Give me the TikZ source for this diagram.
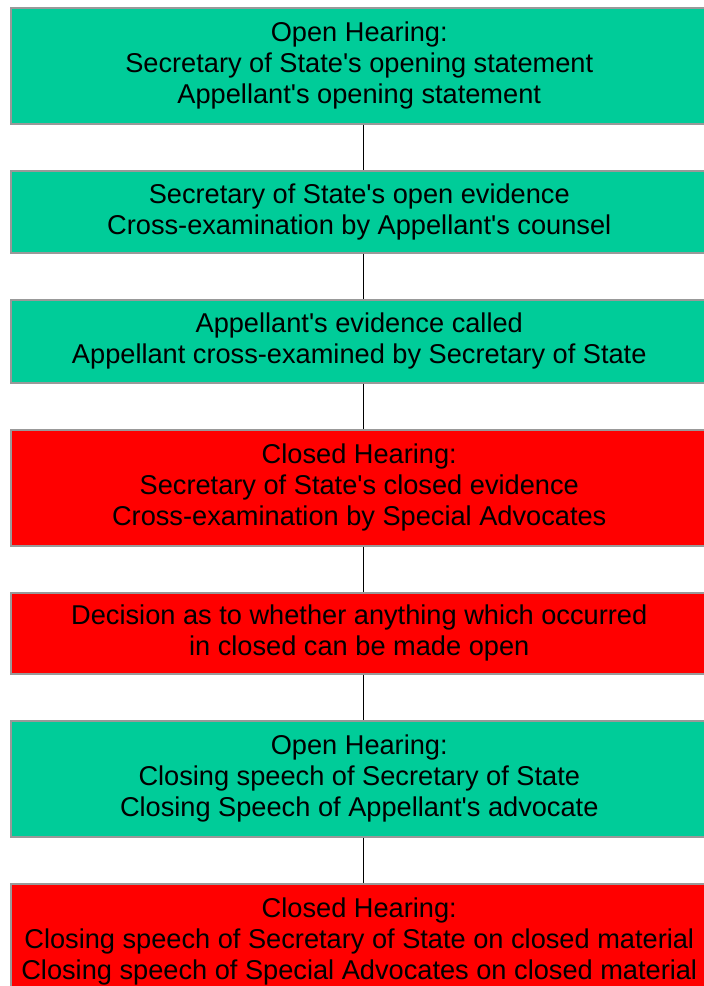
\documentclass[tikz,border=0pt]{standalone}
\usepackage{fontspec}
\setmainfont{Liberation Sans}[Ligatures=TeXOff]
\usepackage{xcolor}
\usetikzlibrary{positioning}

\definecolor{openfill}{HTML}{00CC99}
\definecolor{closedfill}{HTML}{FF0000}
\definecolor{boxline}{HTML}{999999}

\begin{document}
\begin{tikzpicture}[
    x=1pt, y=-1pt,
    node distance=45.5pt,
    every node/.style={font=\fontsize{27.2}{31}\selectfont},
    stage/.style={rectangle, draw=boxline, line width=1.5pt, align=center, minimum width=697pt, inner sep=0pt},
    openstage/.style={stage, fill=openfill},
    closedstage/.style={stage, fill=closedfill},
    link/.style={line width=1pt}
  ]

  \useasboundingbox (0,0) rectangle (704,986);
  \clip (0,0) rectangle (704,986);

  \node[openstage, minimum height=116pt, anchor=north west] (open1) at (10,7) {Open Hearing:\\Secretary of State's opening statement\\Appellant's opening statement};
  \node[openstage, minimum height=82pt, below=of open1] (open2) {Secretary of State's open evidence\\Cross-examination by Appellant's counsel};
  \node[openstage, minimum height=83pt, below=of open2] (open3) {Appellant's evidence called\\Appellant cross-examined by Secretary of State};
  \node[closedstage, minimum height=116pt, below=of open3] (closed1) {Closed Hearing:\\Secretary of State's closed evidence\\Cross-examination by Special Advocates};
  \node[closedstage, minimum height=81pt, below=of closed1] (decision) {Decision as to whether anything which occurred\\in closed can be made open};
  \node[openstage, minimum height=116pt, below=of decision] (open4) {Open Hearing:\\Closing speech of Secretary of State\\Closing Speech of Appellant's advocate};
  \node[closedstage, minimum height=116pt, below=of open4] (closed2) {Closed Hearing:\\Closing speech of Secretary of State on closed material\\Closing speech of Special Advocates on closed material};

  % links sit a little right of the text centre
  \draw[link] ([xshift=4pt]open1.south) -- ([xshift=4pt]open2.north);
  \draw[link] ([xshift=4pt]open2.south) -- ([xshift=4pt]open3.north);
  \draw[link] ([xshift=4pt]open3.south) -- ([xshift=4pt]closed1.north);
  \draw[link] ([xshift=4pt]closed1.south) -- ([xshift=4pt]decision.north);
  \draw[link] ([xshift=4pt]decision.south) -- ([xshift=4pt]open4.north);
  \draw[link] ([xshift=4pt]open4.south) -- ([xshift=4pt]closed2.north);

\end{tikzpicture}
\end{document}
